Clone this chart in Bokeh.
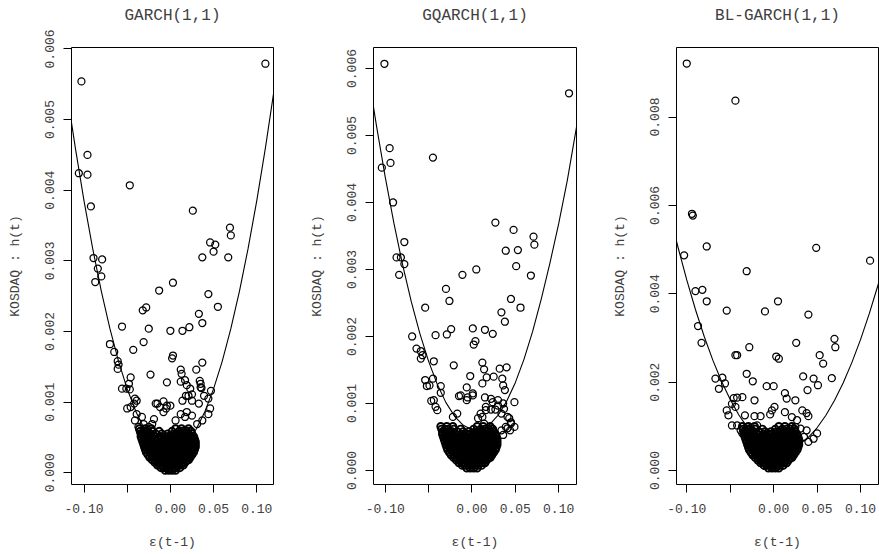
import numpy as np
from bokeh.plotting import figure
from bokeh.layouts import row
from bokeh.models import FixedTicker, CustomJSTickFormatter, Range1d, Title
from bokeh.embed import file_html
from bokeh.resources import INLINE

H_SCALE = 1e-3  # h(t) values below are in units of 1e-3

TITLES = ["GARCH(1,1)", "GQARCH(1,1)", "BL-GARCH(1,1)"]
X_LABEL = "ε(t-1)"
Y_LABEL = "KOSDAQ : h(t)"
X_TICKS = [-0.10, -0.05, 0.00, 0.05, 0.10]
Y_TICKS_1 = [0.000, 0.001, 0.002, 0.003, 0.004, 0.005, 0.006]
Y_TICKS_2 = [0.000, 0.001, 0.002, 0.003, 0.004, 0.005, 0.006]
Y_TICKS_3 = [0.000, 0.002, 0.004, 0.006, 0.008]

# ---- dense core of observations near eps = 0 (eps values per level, shared by all models)
CORE_X_ROWS = [
    [-0.006, -0.002, 0.002, 0.006],
    [-0.011, -0.008, -0.004, 0.000, 0.004, 0.007, 0.011],
    [-0.015, -0.012, -0.009, -0.005, -0.002, 0.002, 0.005, 0.009, 0.012, 0.015],
    [-0.018, -0.014, -0.011, -0.007, -0.004, 0.000, 0.003, 0.007, 0.010, 0.014, 0.017],
    [-0.021, -0.017, -0.014, -0.010, -0.007, -0.003, 0.001, 0.005, 0.008, 0.012, 0.015, 0.019, 0.021],
    [-0.024, -0.020, -0.016, -0.013, -0.009, -0.005, -0.002, 0.002, 0.006, 0.010, 0.013, 0.017, 0.020, 0.023],
    [-0.026, -0.022, -0.018, -0.015, -0.011, -0.008, -0.004, 0.000, 0.004, 0.008, 0.011, 0.015, 0.018, 0.022, 0.025],
    [-0.028, -0.024, -0.021, -0.017, -0.013, -0.010, -0.006, -0.002, 0.002, 0.006, 0.009, 0.013, 0.016, 0.020,
     0.024, 0.027],
    [-0.029, -0.026, -0.022, -0.019, -0.015, -0.012, -0.008, -0.004, 0.000, 0.004, 0.007, 0.011, 0.015, 0.018,
     0.022, 0.025, 0.028],
    [-0.030, -0.027, -0.024, -0.020, -0.017, -0.013, -0.010, -0.006, -0.002, 0.002, 0.006, 0.009, 0.013, 0.016,
     0.020, 0.024, 0.027, 0.029],
    [-0.031, -0.028, -0.025, -0.022, -0.018, -0.015, -0.011, -0.008, -0.004, 0.000, 0.004, 0.007, 0.011, 0.015,
     0.018, 0.022, 0.025, 0.029],
    [-0.032, -0.029, -0.026, -0.023, -0.020, -0.016, -0.013, -0.009, -0.006, -0.002, 0.002, 0.005, 0.009, 0.013,
     0.016, 0.020, 0.023, 0.027, 0.029],
    [-0.033, -0.030, -0.027, -0.024, -0.021, -0.018, -0.014, -0.011, -0.007, -0.004, 0.000, 0.004, 0.007, 0.011,
     0.014, 0.018, 0.022, 0.025, 0.028],
    [-0.034, -0.031, -0.028, -0.025, -0.022, -0.019, -0.012, -0.006, -0.002, 0.002, 0.006, 0.009, 0.013, 0.016,
     0.020, 0.024, 0.027],
    [-0.034, -0.030, -0.026, -0.023, -0.017, -0.010, -0.003, 0.004, 0.008, 0.012, 0.017, 0.021, 0.025],
    [-0.035, -0.031, -0.027, -0.021, -0.013, 0.002, 0.010, 0.015, 0.019, 0.024],
    [-0.036, -0.029, -0.022, 0.006, 0.013, 0.021],
]
GARCH_CORE_H = [0.035, 0.072, 0.109, 0.146, 0.182, 0.219, 0.256, 0.293, 0.330, 0.366, 0.403, 0.440,
                0.477, 0.513, 0.550, 0.587, 0.624]
GQARCH_CORE_H = [0.037, 0.076, 0.115, 0.154, 0.192, 0.231, 0.270, 0.308, 0.347, 0.386, 0.425, 0.463,
                 0.502, 0.541, 0.580, 0.618, 0.657]
BLGARCH_CORE_H = [0.056, 0.115, 0.174, 0.233, 0.292, 0.350, 0.409, 0.468, 0.527, 0.585, 0.644, 0.703,
                  0.762, 0.820, 0.879, 0.938, 0.997]

# ---- scattered observations (eps(t-1), h(t) x 1e-3)
GARCH_X = [0.110, -0.103, -0.096, -0.106, -0.096, -0.047, -0.092, 0.026, 0.069, 0.070, 0.046, 0.052,
           0.050, 0.037, 0.067, -0.089, -0.079, -0.084, -0.080, -0.087, 0.003, -0.013, 0.044, 0.055,
           -0.028, -0.032, 0.033, 0.037, -0.056, -0.025, 0.000, 0.014, 0.022, -0.031, -0.070, -0.065,
           -0.043, 0.003, 0.002, -0.061, -0.060, -0.061, 0.037, 0.012, 0.030, 0.013, -0.023, -0.046,
           -0.004, 0.012, 0.017, 0.034, 0.035, -0.048, -0.056, -0.051, -0.047, 0.023, 0.036, 0.047,
           0.018, 0.025, -0.039, -0.050, -0.017, -0.008, 0.000, -0.008, -0.005, -0.041, -0.042, -0.046,
           -0.015, -0.004, -0.012, 0.019, 0.035, 0.021, 0.014, 0.025, 0.033, 0.039, 0.044, 0.046,
           0.044, 0.037, 0.031, 0.019, 0.012, 0.006, 0.017, 0.025, -0.039, -0.033, -0.041, -0.031,
           -0.019, -0.021, -0.025, -0.037]
GARCH_H = [5.79, 5.54, 4.50, 4.24, 4.22, 4.07, 3.77, 3.71, 3.47, 3.36, 3.26, 3.23,
           3.13, 3.05, 3.05, 3.04, 3.02, 2.89, 2.78, 2.70, 2.69, 2.58, 2.53, 2.35,
           2.34, 2.30, 2.25, 2.12, 2.07, 2.04, 2.01, 2.01, 2.06, 1.85, 1.82, 1.71,
           1.74, 1.66, 1.62, 1.58, 1.53, 1.47, 1.56, 1.46, 1.46, 1.40, 1.39, 1.35,
           1.28, 1.29, 1.31, 1.30, 1.26, 1.26, 1.19, 1.19, 1.18, 1.19, 1.20, 1.16,
           1.09, 1.11, 1.02, 0.91, 0.98, 1.01, 0.95, 0.86, 0.91, 1.05, 0.98, 0.93,
           0.98, 0.95, 0.93, 1.24, 1.21, 1.09, 1.02, 1.02, 0.98, 1.09, 1.05, 0.91,
           0.83, 0.74, 0.69, 0.86, 0.83, 0.74, 0.79, 0.81, 0.83, 0.79, 0.74, 0.69,
           0.76, 0.69, 0.65, 0.65]

GQARCH_X = [-0.101, 0.112, -0.095, -0.094, -0.104, -0.045, -0.091, 0.027, 0.048, 0.071, 0.072, -0.078,
            0.039, 0.053, -0.087, -0.082, -0.078, 0.051, 0.005, -0.011, -0.084, 0.068, -0.030, -0.026,
            -0.054, 0.045, 0.056, 0.034, 0.038, 0.001, 0.015, 0.024, -0.024, -0.029, -0.042, -0.069,
            0.004, 0.002, -0.064, -0.059, -0.059, -0.057, -0.044, -0.021, 0.012, 0.014, 0.032, 0.040,
            0.017, 0.025, -0.002, -0.054, -0.052, -0.045, 0.035, 0.036, 0.038, -0.006, 0.001, -0.006,
            -0.005, -0.036, -0.036, -0.015, 0.015, -0.047, 0.024, 0.030, 0.036, 0.027, 0.022, 0.049,
            0.041, 0.045, 0.049, 0.041, 0.036, 0.044, 0.016, 0.010, 0.007, -0.017, -0.022, -0.040,
            -0.042, -0.013, 0.001, 0.012, 0.022, 0.030, 0.016, 0.037, 0.034, 0.043, 0.045, 0.039,
            0.034, 0.028, 0.022, 0.012, 0.014, -0.049, -0.044]
GQARCH_H = [6.07, 5.63, 4.81, 4.59, 4.52, 4.67, 4.00, 3.70, 3.59, 3.49, 3.37, 3.41,
            3.28, 3.29, 3.18, 3.18, 3.08, 3.05, 3.00, 2.92, 2.92, 2.91, 2.71, 2.53,
            2.43, 2.56, 2.43, 2.36, 2.22, 2.12, 2.10, 2.04, 2.11, 2.03, 2.02, 2.00,
            1.93, 1.88, 1.82, 1.78, 1.67, 1.72, 1.63, 1.57, 1.61, 1.51, 1.52, 1.54,
            1.39, 1.40, 1.41, 1.35, 1.26, 1.37, 1.37, 1.27, 1.20, 1.24, 1.12, 1.05,
            1.09, 1.26, 1.16, 1.11, 1.09, 1.04, 1.02, 0.97, 1.00, 0.91, 0.91, 1.02,
            0.80, 0.72, 0.65, 0.63, 0.53, 0.60, 0.90, 0.85, 0.78, 0.85, 0.80, 0.90,
            0.95, 1.12, 1.15, 1.30, 1.07, 1.05, 0.95, 0.92, 0.85, 0.78, 0.70, 0.65,
            0.60, 0.50, 0.63, 0.80, 0.70, 1.27, 1.05]

BLGARCH_X = [-0.100, -0.044, -0.094, -0.093, -0.077, 0.049, 0.111, -0.103, -0.031, -0.090, -0.082, -0.077,
             -0.054, -0.010, 0.005, 0.040, -0.087, -0.083, -0.028, 0.026, 0.070, 0.071, -0.044, -0.042,
             0.003, 0.006, 0.053, 0.057, -0.031, -0.024, -0.067, -0.059, -0.056, -0.063, -0.008, 0.000,
             0.034, 0.046, 0.051, 0.039, 0.067, 0.013, 0.015, 0.025, -0.046, -0.042, -0.036, -0.048,
             -0.044, -0.022, -0.054, -0.052, -0.048, -0.033, -0.022, -0.015, -0.019, -0.004, -0.002, 0.001,
             0.013, 0.021, 0.027, 0.033, 0.038, 0.040, 0.025, 0.031, 0.038, 0.035, 0.046, 0.040,
             0.050, -0.042, -0.038, -0.036, -0.031]
BLGARCH_H = [9.21, 8.37, 5.81, 5.77, 5.07, 5.04, 4.75, 4.87, 4.51, 4.06, 4.09, 3.83,
             3.62, 3.60, 3.83, 3.53, 3.27, 2.89, 2.79, 2.89, 2.98, 2.79, 2.61, 2.61,
             2.58, 2.53, 2.61, 2.42, 2.19, 2.02, 2.08, 2.10, 1.97, 1.85, 1.91, 1.91,
             2.13, 2.08, 1.93, 1.82, 2.09, 1.75, 1.63, 1.59, 1.64, 1.65, 1.66, 1.51,
             1.44, 1.59, 1.36, 1.25, 1.02, 1.25, 1.23, 1.23, 1.02, 1.27, 1.36, 1.44,
             1.32, 1.21, 1.14, 1.36, 1.30, 1.23, 0.99, 0.95, 0.91, 0.76, 0.72, 0.65,
             0.84, 1.02, 0.91, 0.84, 0.99]

# ---- fitted news impact curves (h x 1e-3)
CURVE_X = [-0.115, -0.11, -0.10, -0.09, -0.08, -0.07, -0.06, -0.05, -0.04, -0.03, -0.02, -0.01, 0.00,
           0.01, 0.02, 0.03, 0.04, 0.05, 0.06, 0.07, 0.08, 0.09, 0.10, 0.11, 0.12, 0.125]
GARCH_CURVE = [4.995, 4.596, 3.850, 3.176, 2.572, 2.040, 1.578, 1.188, 0.868, 0.620, 0.442, 0.336, 0.300,
               0.336, 0.442, 0.620, 0.868, 1.188, 1.578, 2.040, 2.572, 3.176, 3.850, 4.596, 5.412, 5.850]
GQARCH_CURVE = [5.535, 5.131, 4.375, 3.687, 3.069, 2.520, 2.040, 1.629, 1.286, 1.013, 0.809, 0.674, 0.607,
                0.610, 0.682, 0.823, 1.032, 1.311, 1.659, 2.076, 2.561, 3.100, 3.680, 4.330, 5.080, 5.450]
BLGARCH_CURVE = [5.438, 5.047, 4.314, 3.644, 3.039, 2.498, 2.020, 1.607, 1.257, 0.972, 0.750, 0.593, 0.500,
                 0.470, 0.503, 0.597, 0.752, 0.968, 1.245, 1.583, 1.982, 2.442, 2.962, 3.544, 4.187, 4.532]

FONT = "Liberation Mono"
TEXT_COLOR = "#404040"
HEIGHT = 554
TOP, BOTTOM = 47, 70


def style_axis(ax):
    ax.axis_line_color = None
    ax.major_tick_out = 8
    ax.major_tick_in = 0
    ax.major_tick_line_color = "black"
    ax.minor_tick_line_color = None
    ax.major_label_text_font = FONT
    ax.major_label_text_font_size = "13px"
    ax.major_label_text_color = TEXT_COLOR
    ax.axis_label_text_font = FONT
    ax.axis_label_text_font_size = "13px"
    ax.axis_label_text_font_style = "normal"
    ax.axis_label_text_color = TEXT_COLOR


def panel(title, xs, hs, core_h, curve_h, y_ticks, x_range, y_range, width, left, right):
    p = figure(width=width, height=HEIGHT, output_backend="svg", toolbar_location=None,
               x_range=Range1d(*x_range), y_range=Range1d(*y_range),
               min_border_left=left, min_border_right=right,
               min_border_top=TOP, min_border_bottom=BOTTOM,
               background_fill_color="white", border_fill_color="white")

    # main title (outermost in the top panel)
    p.title.text = title
    p.title.align = "center"
    p.title.vertical_align = "top"
    p.title.standoff = 0
    p.title.text_font = FONT
    p.title.text_font_size = "16px"
    p.title.text_font_style = "normal"
    p.title.text_color = TEXT_COLOR

    # blank spacer between the title and the frame
    p.add_layout(Title(text=" ", text_font=FONT, text_font_size="16px", standoff=1), "above")

    p.outline_line_color = "black"
    p.outline_line_width = 1
    p.outline_line_alpha = 1
    p.grid.visible = False

    xax = p.below[0]
    style_axis(xax)
    xax.ticker = FixedTicker(ticks=X_TICKS)
    xax.formatter = CustomJSTickFormatter(
        code="if (Math.abs(tick + 0.05) < 1e-9) { return ''; } return tick.toFixed(2);")
    xax.axis_label = X_LABEL
    xax.major_label_standoff = 11
    xax.axis_label_standoff = 19

    yax = p.left[0]
    style_axis(yax)
    yax.ticker = FixedTicker(ticks=y_ticks)
    yax.formatter = CustomJSTickFormatter(code="return tick.toFixed(3);")
    yax.major_label_orientation = "parallel"
    yax.axis_label = Y_LABEL
    yax.major_label_standoff = 9
    yax.axis_label_standoff = 20

    # scattered observations
    p.scatter(np.array(xs), np.array(hs) * H_SCALE, marker="circle", size=7, fill_color=None,
              line_color="black", line_width=1.25)

    # dense core (heavily overlapping observations)
    core_x, core_y = [], []
    for xrow, hval in zip(CORE_X_ROWS, core_h):
        core_x.extend(xrow)
        core_y.extend([hval] * len(xrow))
    p.scatter(np.array(core_x), np.array(core_y) * H_SCALE, marker="circle", size=7, fill_color=None,
              line_color="black", line_width=1.9)

    p.line(CURVE_X, np.array(curve_h) * H_SCALE, line_color="black", line_width=1.1)
    return p


p1 = panel(TITLES[0], GARCH_X, GARCH_H, GARCH_CORE_H, GARCH_CURVE, Y_TICKS_1,
           (-0.1145, 0.1194), (-0.000166, 0.00602), 300, 71, 27)
p2 = panel(TITLES[1], GQARCH_X, GQARCH_H, GQARCH_CORE_H, GQARCH_CURVE, Y_TICKS_2,
           (-0.1136, 0.1206), (-0.000209, 0.006313), 300, 73, 24)
p3 = panel(TITLES[2], BLGARCH_X, BLGARCH_H, BLGARCH_CORE_H, BLGARCH_CURVE, Y_TICKS_3,
           (-0.1118, 0.1207), (-0.000316, 0.009573), 279, 76, 1)

layout = row(p1, p2, p3, spacing=0)
open("out.html", "w").write(file_html(layout, INLINE))
